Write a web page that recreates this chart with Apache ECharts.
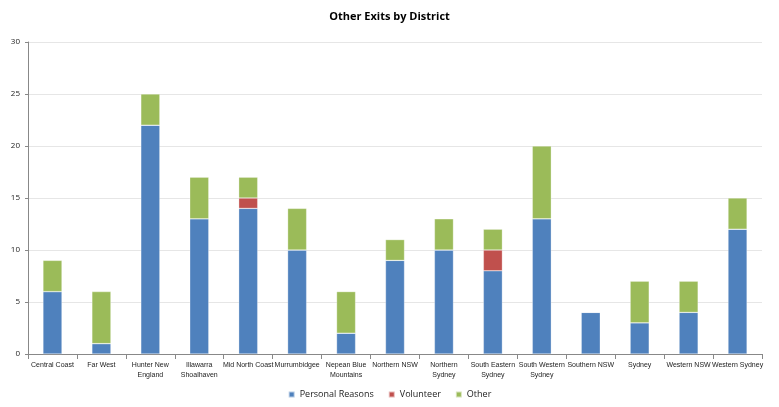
<!DOCTYPE html>
<html><head><meta charset="utf-8">
<script src="https://cdn.jsdelivr.net/npm/echarts@6/dist/echarts.min.js"></script>
<style>html,body{margin:0;padding:0;background:#fff}#c{width:779px;height:407px}</style>
</head><body><div id="c"></div>
<script>
const categories = ["Central Coast","Far West","Hunter New\nEngland","Illawarra\nShoalhaven","Mid North Coast","Murrumbidgee","Nepean Blue\nMountains","Northern NSW","Northern\nSydney","South Eastern\nSydney","South Western\nSydney","Southern NSW","Sydney","Western NSW","Western Sydney"];
const personalReasons = [6,1,22,13,14,10,2,9,10,8,13,4,3,4,12];
const volunteer = [0,0,0,0,1,0,0,0,0,2,0,0,0,0,0];
const other = [3,5,3,4,2,4,4,2,3,2,7,0,4,3,3];
const yTicks = {min:0, max:30, interval:5};

const chart = echarts.init(document.getElementById('c'));
const font = "'Open Sans', 'Liberation Sans', sans-serif";
const narrow = "'Liberation Sans', sans-serif";
function s(name, data, color){
  return {name, type:'bar', stack:'t', data, barWidth:19,
    itemStyle:{color, borderColor:'rgba(255,255,255,0.6)', borderWidth:0.5},
    emphasis:{disabled:true}};
}
chart.setOption({
  animation:false,
  title:{text:'Other Exits by District', left:'center', top:6,
    textStyle:{fontFamily:font, fontSize:11, fontWeight:'bold', color:'#000'}},
  legend:{bottom:3, left:'center', itemWidth:6, itemHeight:6, itemGap:14, icon:'rect',
    textStyle:{fontFamily:font, fontSize:9, color:'#222'}},
  grid:{left:28, right:17, top:42, bottom:53, containLabel:false},
  xAxis:{type:'category', data:categories,
    axisLine:{lineStyle:{color:'#888'}},
    axisTick:{show:true, alignWithLabel:false, lineStyle:{color:'#888'}},
    axisLabel:{interval:0, fontFamily:narrow, fontSize:7, color:'#222', lineHeight:10, margin:6}},
  yAxis:{type:'value', min:yTicks.min, max:yTicks.max, interval:yTicks.interval,
    axisLine:{show:true, lineStyle:{color:'#888'}},
    axisTick:{show:true, length:3, lineStyle:{color:'#888'}},
    splitLine:{lineStyle:{color:'#e6e6e6'}},
    axisLabel:{fontFamily:font, fontSize:8, color:'#222', margin:8}},
  series:[s('Personal Reasons', personalReasons, '#4F81BD'),
          s('Volunteer', volunteer, '#C0504D'),
          s('Other', other, '#9BBB59')]
});
</script></body></html>
